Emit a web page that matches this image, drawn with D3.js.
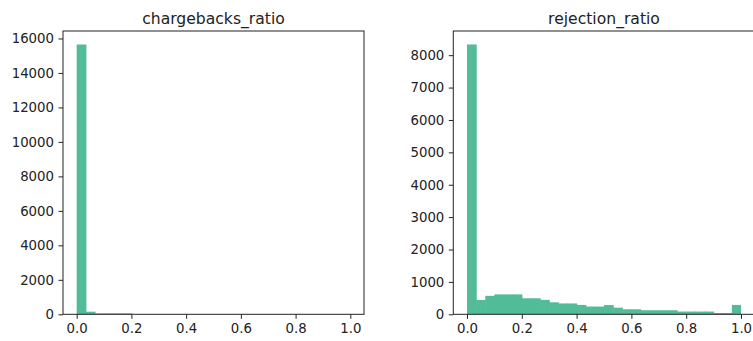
<!DOCTYPE html>
<html>
<head>
<meta charset="utf-8">
<script src="https://cdn.jsdelivr.net/npm/d3@7"></script>
<style>
	body { margin: 0; background: #fff; }
	text { font-family: "DejaVu Sans", sans-serif; fill: #222; }
</style>
</head>
<body>
<div id="chart"></div>
<script>
'use strict'

// 30 equal bins over [0, 1]
var binCount = 30

var chargebacksCounts = [15650, 150, 55, 55, 55, 55, 0, 0, 0, 0,
	0, 0, 0, 0, 0, 0, 0, 0, 0, 0,
	0, 0, 0, 0, 0, 0, 0, 0, 0, 0]

var rejectionCounts = [8330, 440, 570, 615, 615, 615, 495, 495, 445, 370,
	335, 335, 290, 240, 240, 285, 205, 155, 155, 125,
	125, 125, 125, 85, 85, 85, 85, 40, 40, 290]

var xTicks = [0.0, 0.2, 0.4, 0.6, 0.8, 1.0]
var chargebacksTicks = [0, 2000, 4000, 6000, 8000, 10000, 12000, 14000, 16000]
var rejectionTicks = [0, 1000, 2000, 3000, 4000, 5000, 6000, 7000, 8000]

var panels = [
	{title: "chargebacks_ratio", counts: chargebacksCounts, ticks: chargebacksTicks, left: 63, right: 364},
	{title: "rejection_ratio", counts: rejectionCounts, ticks: rejectionTicks, left: 453.3, right: 754.7}
]

var plotTop = 31, plotBottom = 314.3
var barColor = "#52bb98"

var svg = d3.select("#chart").append("svg")
	.attr("width", 753)
	.attr("height", 341)

panels.forEach(function(p){
	var x = d3.scaleLinear().domain([-0.05, 1.05]).range([p.left, p.right])
	var y = d3.scaleLinear().domain([0, d3.max(p.counts) * 1.05]).range([plotBottom, plotTop])

	var bins = p.counts.map(function(c, i){
		return {x0: i / binCount, x1: (i + 1) / binCount, count: c}
	})

	var g = svg.append("g")

	// small overlap so no seams show between neighbouring bars
	g.selectAll(".bar")
		.data(bins)
		.enter().append("rect")
		.attr("class", "bar")
		.attr("x", function(d){ return x(d.x0) })
		.attr("width", function(d, i){ return x(d.x1) - x(d.x0) + (i < binCount - 1 ? 0.6 : 0) })
		.attr("y", function(d){ return y(d.count) })
		.attr("height", function(d){ return plotBottom - y(d.count) })
		.style("fill", barColor)

	var xa = g.append("g")
		.attr("transform", "translate(0," + plotBottom + ")")
		.call(d3.axisBottom(x).tickValues(xTicks).tickFormat(d3.format(".1f")).tickSize(4.5).tickPadding(4.5))
	var ya = g.append("g")
		.attr("transform", "translate(" + p.left + ",0)")
		.call(d3.axisLeft(y).tickValues(p.ticks).tickFormat(d3.format("d")).tickSize(4.5).tickPadding(4.5))

	;[xa, ya].forEach(function(a){
		a.select(".domain").remove()
		a.selectAll(".tick line").attr("stroke", "#222").attr("stroke-width", 1)
		a.selectAll(".tick text").style("font-size", "13.3px").attr("fill", "#222")
	})

	// spines
	g.append("rect")
		.attr("x", p.left)
		.attr("y", plotTop)
		.attr("width", p.right - p.left)
		.attr("height", plotBottom - plotTop)
		.attr("fill", "none")
		.attr("stroke", "#222")
		.attr("stroke-width", 1)

	g.append("text")
		.attr("x", (p.left + p.right) / 2)
		.attr("y", plotTop - 7)
		.attr("text-anchor", "middle")
		.style("font-size", "15.6px")
		.text(p.title)
})
</script>
</body>
</html>
